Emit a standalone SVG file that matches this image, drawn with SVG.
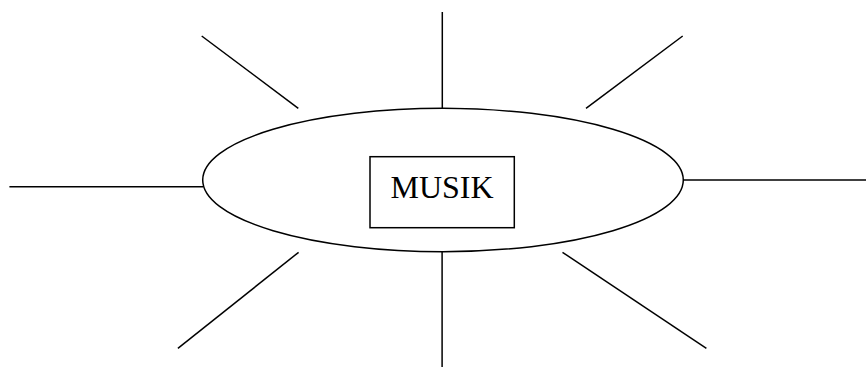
<svg xmlns="http://www.w3.org/2000/svg" width="866" height="367" viewBox="0 0 866 367">
<style>
.ln{stroke:#000;stroke-width:1.5;fill:none}
.sh{stroke:#000;stroke-width:1.5;fill:#fff}
.lb{font-family:"Liberation Serif","Times New Roman",serif;font-size:32px;fill:#000}
</style>
<rect width="866" height="367" fill="#fff"/>
<g id="connectors">
<line class="ln" x1="442.3" y1="12" x2="442.3" y2="108.3"/>
<line class="ln" x1="201.7" y1="36" x2="298.3" y2="108.3"/>
<line class="ln" x1="682.7" y1="36" x2="586" y2="108.3"/>
<line class="ln" x1="9.4" y1="186.7" x2="203" y2="186.7"/>
<line class="ln" x1="683" y1="180" x2="866" y2="180"/>
<line class="ln" x1="298.6" y1="252.3" x2="177.9" y2="348.3"/>
<line class="ln" x1="442.1" y1="251.7" x2="442.1" y2="367"/>
<line class="ln" x1="562.5" y1="252.3" x2="706.4" y2="348.3"/>
</g>
<g id="ellipse">
<ellipse class="sh" cx="443" cy="180" rx="240.3" ry="71.7"/>
</g>
<g id="musik">
<rect class="sh" x="370" y="156.7" width="144.3" height="71"/>
<text class="lb" x="442" y="197.7" text-anchor="middle">MUSIK</text>
</g>
</svg>
